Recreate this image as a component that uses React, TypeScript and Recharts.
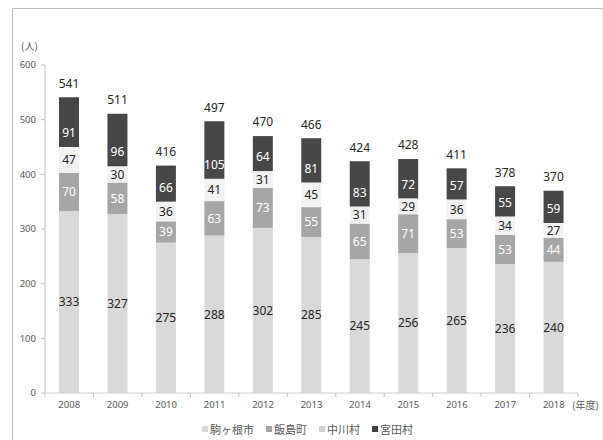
import React from 'react';
import { BarChart, Bar, XAxis, YAxis, LabelList } from 'recharts';

const years = ['2008', '2009', '2010', '2011', '2012', '2013', '2014', '2015', '2016', '2017', '2018'];
const komagane = [333, 327, 275, 288, 302, 285, 245, 256, 265, 236, 240];
const iijima = [70, 58, 39, 63, 73, 55, 65, 71, 53, 53, 44];
const nakagawa = [47, 30, 36, 41, 31, 45, 31, 29, 36, 34, 27];
const miyada = [91, 96, 66, 105, 64, 81, 83, 72, 57, 55, 59];
const totals = [541, 511, 416, 497, 470, 466, 424, 428, 411, 378, 370];
const yTicks = [0, 100, 200, 300, 400, 500, 600];

const seriesNames = ['駒ヶ根市', '飯島町', '中川村', '宮田村'];
const seriesColors = ['#d9d9d9', '#a6a6a6', '#f2f2f2', '#474747'];
const legendColors = ['#d9d9d9', '#a6a6a6', '#d0d0d0', '#404040'];

const data = years.map((y, i) => ({
  year: y,
  komagane: komagane[i],
  iijima: iijima[i],
  nakagawa: nakagawa[i],
  miyada: miyada[i],
  total: totals[i],
}));

const LABEL_FONT = '"Noto Sans", "DejaVu Sans", sans-serif';
const TICK_FONT = '"Noto Sans", "DejaVu Sans", sans-serif';
const CJK_FONT = '"Noto Sans CJK JP", "Noto Sans", sans-serif';

const N = (v: any) => Number(v) || 0;

const centerLabel = (color: string) => (props: any) => {
  const x = N(props.x), y = N(props.y), w = N(props.width), h = N(props.height);
  return (
    <text x={x + w / 2} y={y + h / 2} dy="0.36em" textAnchor="middle" fill={color}
      fontSize={12} fontFamily={LABEL_FONT}>{props.value}</text>
  );
};

const bottomLabel = (color: string) => (props: any) => {
  const x = N(props.x), y = N(props.y), w = N(props.width), h = N(props.height);
  return (
    <text x={x + w / 2} y={y + h - 14} dy="0.36em" textAnchor="middle" fill={color}
      fontSize={12} fontFamily={LABEL_FONT}>{props.value}</text>
  );
};

const totalLabel = (props: any) => {
  const x = N(props.x), y = N(props.y), w = N(props.width);
  return (
    <text x={x + w / 2} y={y - 14} dy="0.36em" textAnchor="middle" fill="#262626"
      fontSize={12} fontFamily={LABEL_FONT}>{props.value}</text>
  );
};

const XTick = (props: any) => {
  const { x, y, payload, index } = props;
  const half = payload && typeof payload.offset === 'number' && payload.offset > 0 ? payload.offset : 533 / 11 / 2;
  const isLast = index === years.length - 1;
  return (
    <g>
      <line x1={x - half} x2={x - half} y1={y} y2={y + 4} stroke="#bfbfbf" />
      {isLast && <line x1={x + half} x2={x + half} y1={y} y2={y + 4} stroke="#bfbfbf" />}
      <text x={x} y={y + 12} dy="0.36em" textAnchor="middle" fill="#595959" fontSize={9.5}
        fontFamily={TICK_FONT}>{payload.value}</text>
    </g>
  );
};

export default function App() {
  return (
    <div style={{ position: 'absolute', left: 0, top: 0, width: 603, height: 440, background: '#fff', overflow: 'hidden' }}>
      <div style={{
        position: 'absolute', left: 12, top: 8, width: 589, height: 440,
        borderLeft: '1px solid #b8b8b8', borderTop: '1px solid #b8b8b8', borderRight: '1px solid #ececec',
      }} />
      <div style={{ position: 'absolute', left: 0, top: 0 }}>
        <BarChart width={603} height={440} data={data}
          margin={{ top: 65, right: 25, left: 0, bottom: 0 }} barSize={20}>
          <XAxis dataKey="year" height={47} tickLine={false} tickSize={0} tickMargin={0}
            axisLine={{ stroke: '#d0d0d0' }} tick={<XTick />} interval={0} />
          <YAxis width={45} domain={[0, 600]} ticks={yTicks} tickSize={4} tickMargin={5}
            axisLine={{ stroke: '#bfbfbf' }} tickLine={{ stroke: '#bfbfbf' }}
            tick={{ fontSize: 9.5, fill: '#595959', fontFamily: TICK_FONT }} interval={0} />
          <Bar dataKey="komagane" stackId="a" fill={seriesColors[0]} isAnimationActive={false}>
            <LabelList dataKey="komagane" content={centerLabel('#262626')} />
          </Bar>
          <Bar dataKey="iijima" stackId="a" fill={seriesColors[1]} isAnimationActive={false}>
            <LabelList dataKey="iijima" content={centerLabel('#ffffff')} />
          </Bar>
          <Bar dataKey="nakagawa" stackId="a" fill={seriesColors[2]} isAnimationActive={false}>
            <LabelList dataKey="nakagawa" content={centerLabel('#262626')} />
          </Bar>
          <Bar dataKey="miyada" stackId="a" fill={seriesColors[3]} isAnimationActive={false}>
            <LabelList dataKey="miyada" content={bottomLabel('#ffffff')} />
            <LabelList dataKey="total" content={totalLabel} />
          </Bar>
        </BarChart>
      </div>
      <div style={{ position: 'absolute', left: 21, top: 41, fontSize: 10, lineHeight: '10px', color: '#595959', fontFamily: CJK_FONT }}>(人)</div>
      <div style={{ position: 'absolute', left: 572, top: 400, fontSize: 10, lineHeight: '10px', color: '#595959', fontFamily: CJK_FONT, whiteSpace: 'nowrap' }}>(年度)</div>
      <div style={{ position: 'absolute', left: 202, top: 422, display: 'flex', alignItems: 'center', fontSize: 11, lineHeight: '14px', color: '#595959', fontFamily: CJK_FONT, whiteSpace: 'nowrap' }}>
        {seriesNames.map((n, i) => (
          <div key={n} style={{ display: 'flex', alignItems: 'center', marginRight: 12 }}>
            <span style={{ display: 'inline-block', width: 6, height: 6, background: legendColors[i], marginRight: 2 }} />
            <span>{n}</span>
          </div>
        ))}
      </div>
    </div>
  );
}
